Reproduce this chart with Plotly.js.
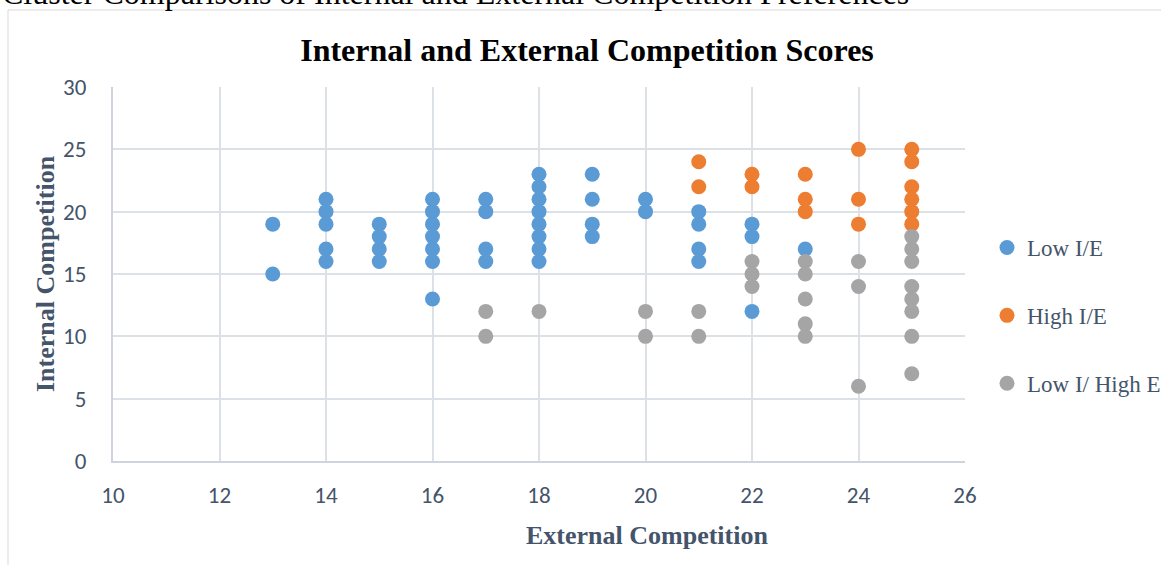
<!DOCTYPE html>
<html>
<head>
<meta charset="utf-8">
<script src="https://cdn.plot.ly/plotly-3.0.1.min.js"></script>
<style>
html,body{margin:0;padding:0;background:#fff;overflow:hidden;}
#chart{width:1161px;height:565px;}
</style>
</head>
<body>
<div id="chart"></div>
<script>
// Low I/E cluster
const lowIE_x = [13,13, 14,14,14,14,14, 15,15,15,15, 16,16,16,16,16,16,16, 17,17,17,17, 18,18,18,18,18,18,18,18, 19,19,19,19, 20,20, 21,21,21,21, 22,22,22, 23];
const lowIE_y = [19,15, 21,20,19,17,16, 19,18,17,16, 21,20,19,18,17,16,13, 21,20,17,16, 23,22,21,20,19,18,17,16, 23,21,19,18, 21,20, 20,19,17,16, 19,18,12, 17];
// High I/E cluster
const highIE_x = [21,21, 22,22, 23,23,23, 24,24,24, 25,25,25,25,25,25];
const highIE_y = [24,22, 23,22, 23,21,20, 25,21,19, 25,24,22,21,20,19];
// Low I / High E cluster
const lowIhighE_x = [17,17, 18, 20,20, 21,21, 22,22,22, 23,23,23,23,23, 24,24,24, 25,25,25,25,25,25,25,25];
const lowIhighE_y = [12,10, 12, 12,10, 12,10, 16,15,14, 16,15,13,11,10, 16,14,6, 18,17,16,14,13,12,10,7];

const seriesNames = ["Low I/E", "High I/E", "Low I/ High E"];
const seriesColors = ["#5B9BD5", "#ED7D31", "#A5A5A5"];

const xTicks = [10,12,14,16,18,20,22,24,26];
const yTicks = [0,5,10,15,20,25,30];

const xs = [lowIE_x, highIE_x, lowIhighE_x];
const ys = [lowIE_y, highIE_y, lowIhighE_y];

const traces = seriesNames.map((n,i)=>({
  type:'scatter', mode:'markers', name:n,
  x: xs[i], y: ys[i],
  legendgroup: 'g'+i,
  marker:{size:15, color:seriesColors[i], line:{width:0}},
  hoverinfo:'x+y+name'
}));

const tickFont = {family:'Carlito, "Liberation Sans Narrow", "Open Sans", sans-serif', size:23, color:'#44546A'};
const serif = '"Liberation Serif", "Times New Roman", serif';

const layout = {
  width:1161, height:565,
  margin:{l:113, r:196, t:87, b:104, autoexpand:false},
  paper_bgcolor:'#fff', plot_bgcolor:'#fff',
  showlegend:true,
  title:{text:'Internal and External Competition Scores', x:0.5056, xanchor:'center', y:1-50/565, yanchor:'middle',
         font:{family:serif, size:32, color:'#000', weight:'bold'}},
  xaxis:{range:[10,26], tickvals:xTicks, ticktext:xTicks.map(String), showgrid:true, gridcolor:'#DCE0E7', gridwidth:2,
         zeroline:false, showline:true, linecolor:'#CDD4DF', linewidth:2, ticks:'', tickfont:tickFont, ticklabelstandoff:12, fixedrange:true},
  yaxis:{range:[0,30], tickvals:yTicks, ticktext:yTicks.map(String), showgrid:true, gridcolor:'#DCE0E7', gridwidth:2,
         zeroline:false, showline:true, linecolor:'#CDD4DF', linewidth:2, ticks:'', tickfont:tickFont, ticklabelstandoff:20, fixedrange:true},
  legend:{x:(987-113)/852, xanchor:'left', y:(461-226)/374, yanchor:'top', traceorder:'grouped', tracegroupgap:35,
          font:{family:serif, size:23, color:'#44546A'}, itemsizing:'trace', bgcolor:'rgba(0,0,0,0)'},
  annotations:[
    {text:'Internal Competition', xref:'paper', yref:'paper', x:(45-113)/852, y:0.5, textangle:-90, showarrow:false,
     xanchor:'center', yanchor:'middle', font:{family:serif, size:26, color:'#44546A', weight:'bold'}},
    {text:'External Competition', xref:'paper', yref:'paper', x:(647-113)/852, y:(461-535)/374, showarrow:false,
     xanchor:'center', yanchor:'middle', font:{family:serif, size:26, color:'#44546A', weight:'bold'}},
    {text:'Cluster Comparisons of Internal and External Competition Preferences', xref:'paper', yref:'paper',
     x:(0-113)/852, y:(461-13)/374, xanchor:'left', yanchor:'bottom', showarrow:false,
     font:{family:serif, size:32, color:'#000'}}
  ],
  shapes:[
    {type:'line', xref:'paper', yref:'paper', x0:(8-113)/852, x1:(8-113)/852, y0:-1, y1:(461-10)/374, line:{color:'#D9D9D9', width:1}},
    {type:'line', xref:'paper', yref:'paper', x0:(8-113)/852, x1:1.5, y0:(461-10)/374, y1:(461-10)/374, line:{color:'#D9D9D9', width:1}}
  ]
};

Plotly.newPlot('chart', traces, layout, {displayModeBar:false, staticPlot:true});
</script>
</body>
</html>
